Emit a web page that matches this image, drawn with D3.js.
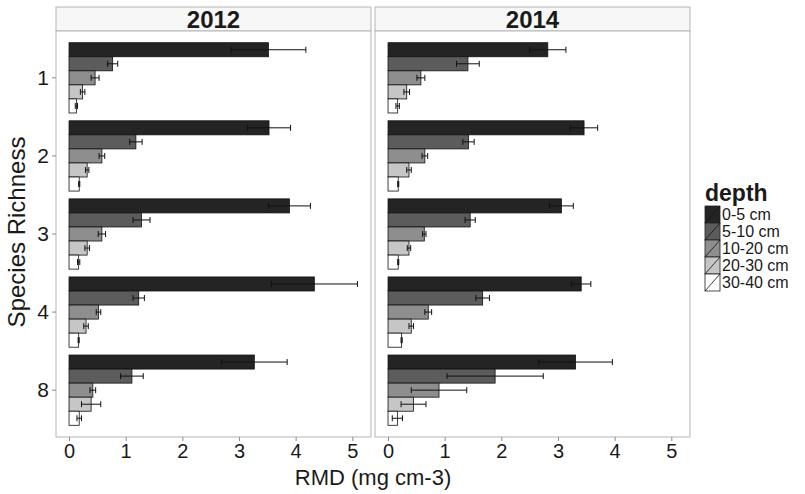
<!DOCTYPE html>
<html>
<head>
<meta charset="utf-8">
<script src="https://cdn.jsdelivr.net/npm/d3@7/dist/d3.min.js"></script>
<style>
  body { margin: 0; background: #fff; }
  svg text { font-family: "Liberation Sans", Arial, sans-serif; fill: #1a1a1a; }
</style>
</head>
<body>
<div class="chart"></div>
<script>
const categories = ['1', '2', '3', '4', '8']
const depths = ['0-5 cm', '5-10 cm', '10-20 cm', '20-30 cm', '30-40 cm']
const years = ['2012', '2014']

// mean RMD per richness level (rows) and depth (cols)
const rmd2012 = [
  [3.52, 0.77, 0.46, 0.24, 0.13],
  [3.53, 1.18, 0.58, 0.32, 0.18],
  [3.89, 1.28, 0.58, 0.32, 0.17],
  [4.33, 1.23, 0.52, 0.30, 0.17],
  [3.27, 1.11, 0.42, 0.39, 0.18]
]
const se2012 = [
  [0.66, 0.09, 0.07, 0.04, 0.02],
  [0.38, 0.11, 0.05, 0.03, 0.01],
  [0.37, 0.15, 0.065, 0.04, 0.02],
  [0.76, 0.10, 0.04, 0.04, 0.01],
  [0.58, 0.20, 0.05, 0.17, 0.04]
]
const rmd2014 = [
  [2.82, 1.41, 0.58, 0.33, 0.17],
  [3.46, 1.42, 0.65, 0.37, 0.18],
  [3.06, 1.45, 0.64, 0.37, 0.18],
  [3.41, 1.67, 0.71, 0.41, 0.24],
  [3.31, 1.89, 0.90, 0.45, 0.165]
]
const se2014 = [
  [0.32, 0.20, 0.07, 0.05, 0.03],
  [0.24, 0.10, 0.05, 0.04, 0.01],
  [0.21, 0.09, 0.03, 0.03, 0.01],
  [0.17, 0.12, 0.06, 0.04, 0.01],
  [0.65, 0.85, 0.49, 0.22, 0.09]
]
const xTicks = [0, 1, 2, 3, 4, 5]

const fills = ['#242424', '#5c5c5c', '#8e8e8e', '#c6c6c6', '#ffffff']

const width = 805, height = 494
const panelTop = 31, panelBottom = 437, stripTop = 7
const panelsX = [[56, 371], [375, 690]]

const svg = d3.select('.chart').append('svg')
  .attr('width', width)
  .attr('height', height)

svg.append('rect').attr('width', width).attr('height', height).attr('fill', '#fff')

const yScale = d3.scaleBand()
  .domain(categories)
  .range([panelTop, panelBottom])
  .paddingInner(0.1)
  .paddingOuter(0.15)

const depthScale = d3.scaleBand()
  .domain(depths)
  .range([0, yScale.bandwidth()])

const color = d3.scaleOrdinal().domain(depths).range(fills)

const panelData = [
  {year: years[0], vals: rmd2012, se: se2012},
  {year: years[1], vals: rmd2014, se: se2014}
]

panelData.forEach((p, pi) => {
  const [x0, x1] = panelsX[pi]
  const xScale = d3.scaleLinear().domain([-0.23, 5.33]).range([x0, x1])
  const g = svg.append('g').attr('class', 'panel')

  // strip
  g.append('rect')
    .attr('x', x0).attr('y', stripTop)
    .attr('width', x1 - x0).attr('height', panelTop - stripTop)
    .attr('fill', '#f7f7f7').attr('stroke', '#b5b5b5').attr('stroke-width', 1)
  g.append('text')
    .attr('x', (x0 + x1) / 2).attr('y', 28)
    .attr('text-anchor', 'middle')
    .style('font-size', '24px').style('font-weight', 'bold')
    .text(p.year)

  // panel border
  g.append('rect')
    .attr('x', x0).attr('y', panelTop)
    .attr('width', x1 - x0).attr('height', panelBottom - panelTop)
    .attr('fill', '#fff').attr('stroke', '#b5b5b5').attr('stroke-width', 1)

  const rows = []
  categories.forEach((c, ci) => {
    depths.forEach((d, di) => {
      rows.push({cat: c, depth: d, value: p.vals[ci][di], se: p.se[ci][di]})
    })
  })

  const bars = g.append('g').selectAll('g').data(rows).join('g')
    .attr('transform', d => 'translate(0,' + (yScale(d.cat) + depthScale(d.depth)) + ')')

  bars.append('rect')
    .attr('x', xScale(0))
    .attr('y', 0)
    .attr('width', d => xScale(d.value) - xScale(0))
    .attr('height', depthScale.bandwidth())
    .attr('fill', d => color(d.depth))
    .attr('stroke', '#111')
    .attr('stroke-width', 0.8)

  const mid = depthScale.bandwidth() / 2
  bars.append('line')
    .attr('x1', d => xScale(d.value - d.se)).attr('x2', d => xScale(d.value + d.se))
    .attr('y1', mid).attr('y2', mid)
    .attr('stroke', '#111').attr('stroke-width', 1)
  bars.append('line')
    .attr('x1', d => xScale(d.value - d.se)).attr('x2', d => xScale(d.value - d.se))
    .attr('y1', mid - 3).attr('y2', mid + 3)
    .attr('stroke', '#111').attr('stroke-width', 1)
  bars.append('line')
    .attr('x1', d => xScale(d.value + d.se)).attr('x2', d => xScale(d.value + d.se))
    .attr('y1', mid - 3).attr('y2', mid + 3)
    .attr('stroke', '#111').attr('stroke-width', 1)

  // x axis
  const xaxis = svg.append('g')
    .attr('class', 'x axis')
    .attr('transform', 'translate(0,' + panelBottom + ')')
    .call(d3.axisBottom(xScale).tickValues(xTicks).tickFormat(d3.format('d'))
      .tickSizeInner(4).tickSizeOuter(0).tickPadding(3))
  xaxis.select('.domain').remove()
  xaxis.selectAll('line').attr('stroke', '#8a8a8a')
  xaxis.selectAll('text').style('font-size', '20px').attr('fill', '#1a1a1a')
})

// y axis
const yaxis = svg.append('g')
  .attr('class', 'y axis')
  .attr('transform', 'translate(' + panelsX[0][0] + ',0)')
  .call(d3.axisLeft(yScale).tickSizeInner(4).tickSizeOuter(0).tickPadding(3))
yaxis.select('.domain').remove()
yaxis.selectAll('line').attr('stroke', '#8a8a8a')
yaxis.selectAll('text').style('font-size', '21px').attr('fill', '#1a1a1a')

// axis titles
svg.append('text')
  .attr('x', (panelsX[0][0] + panelsX[1][1]) / 2).attr('y', 485)
  .attr('text-anchor', 'middle')
  .style('font-size', '22px')
  .text('RMD (mg cm-3)')

svg.append('text')
  .attr('transform', 'translate(25,' + ((panelTop + panelBottom) / 2 - 2) + ') rotate(-90)')
  .attr('text-anchor', 'middle')
  .style('font-size', '24px')
  .text('Species Richness')

// legend
const legend = svg.append('g').attr('transform', 'translate(705,0)')
legend.append('text')
  .attr('x', 0).attr('y', 201)
  .style('font-size', '23px').style('font-weight', 'bold')
  .text('depth')

const keyH = 17
const keys = legend.selectAll('g.key').data(depths).join('g')
  .attr('class', 'key')
  .attr('transform', (d, i) => 'translate(0,' + (206 + i * keyH) + ')')
keys.append('rect')
  .attr('width', 15).attr('height', keyH)
  .attr('fill', d => color(d))
  .attr('stroke', '#222').attr('stroke-width', 0.8)
keys.append('line')
  .attr('x1', 0).attr('y1', keyH).attr('x2', 15).attr('y2', 0)
  .attr('stroke', '#111').attr('stroke-width', 0.8)
keys.append('text')
  .attr('x', 17).attr('y', 14)
  .style('font-size', '16px')
  .text(d => d)
</script>
</body>
</html>
